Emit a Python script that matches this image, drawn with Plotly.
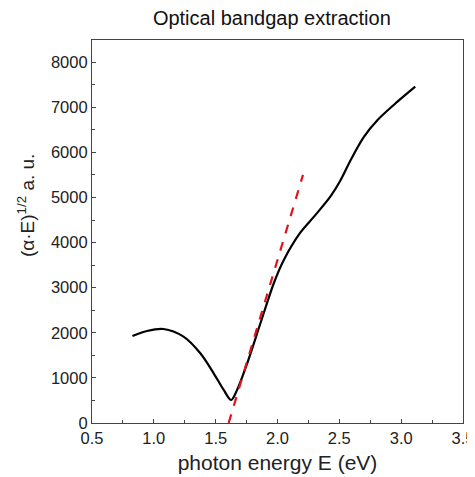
import plotly.graph_objects as go

energy = [0.827, 0.944, 1.078, 1.24, 1.376, 1.484, 1.565, 1.625, 1.673, 1.755,
          1.862, 1.970, 2.051, 2.187, 2.295, 2.43, 2.511, 2.592, 2.70, 2.809,
          2.97, 3.114]
signal = [1929, 2040, 2084, 1914, 1545, 1102, 732, 510, 732, 1324,
          2211, 3098, 3614, 4230, 4574, 5030, 5388, 5831, 6348, 6718,
          7124, 7457]

fit_energy = [1.605, 2.206]
fit_signal = [0, 5499]

x_ticks = [0.5, 1.0, 1.5, 2.0, 2.5, 3.0, 3.5]
x_tick_labels = ["0.5", "1.0", "1.5", "2.0", "2.5", "3.0", "3.5"]
y_ticks = [0, 1000, 2000, 3000, 4000, 5000, 6000, 7000, 8000]

fig = go.Figure()
fig.add_trace(go.Scatter(x=energy, y=signal, mode="lines",
                         line=dict(color="black", width=2.2, shape="spline", smoothing=0.9),
                         showlegend=False))
fig.add_trace(go.Scatter(x=fit_energy, y=fit_signal, mode="lines",
                         line=dict(color="#e0141e", width=2.2, dash="dash"),
                         showlegend=False))

font_family = "Liberation Sans, Arial, sans-serif"
fig.update_layout(
    width=467, height=469,
    margin=dict(l=84, r=12, t=32, b=54, autoexpand=False),
    paper_bgcolor="white", plot_bgcolor="white",
    font=dict(family=font_family, color="#222", size=16),
    title=dict(text="Optical bandgap extraction", x=0.565, xanchor="center",
               y=0.978, yanchor="middle", font=dict(size=20, color="#111"), automargin=False),
)
fig.update_xaxes(range=[0.5, 3.5], tickvals=x_ticks, ticktext=x_tick_labels,
                 showgrid=False, zeroline=False, showline=True, linecolor="#444", linewidth=1.2,
                 mirror=True, ticks="inside", ticklen=4, tickcolor="#444",
                 minor=dict(dtick=0.25, ticks="inside", ticklen=3, tickcolor="#444"),
                 tickfont=dict(size=16.5), automargin=False,
                 title=dict(text="photon energy E (eV)", font=dict(size=21), standoff=9))
fig.update_yaxes(range=[0, 8490], tickvals=y_ticks,
                 showgrid=False, zeroline=False, showline=True, linecolor="#444", linewidth=1.2,
                 mirror=True, ticks="inside", ticklen=4, tickcolor="#444",
                 minor=dict(dtick=500, ticks="inside", ticklen=3, tickcolor="#444"),
                 tickfont=dict(size=16.5), automargin=False)

fig.add_annotation(text="(α·E)<sup>1/2</sup> a. u.", textangle=-90,
                   xref="paper", yref="paper", x=-0.178, y=0.569,
                   xanchor="center", yanchor="middle", showarrow=False,
                   font=dict(size=19, color="#222"))

fig.write_html("out.html")
